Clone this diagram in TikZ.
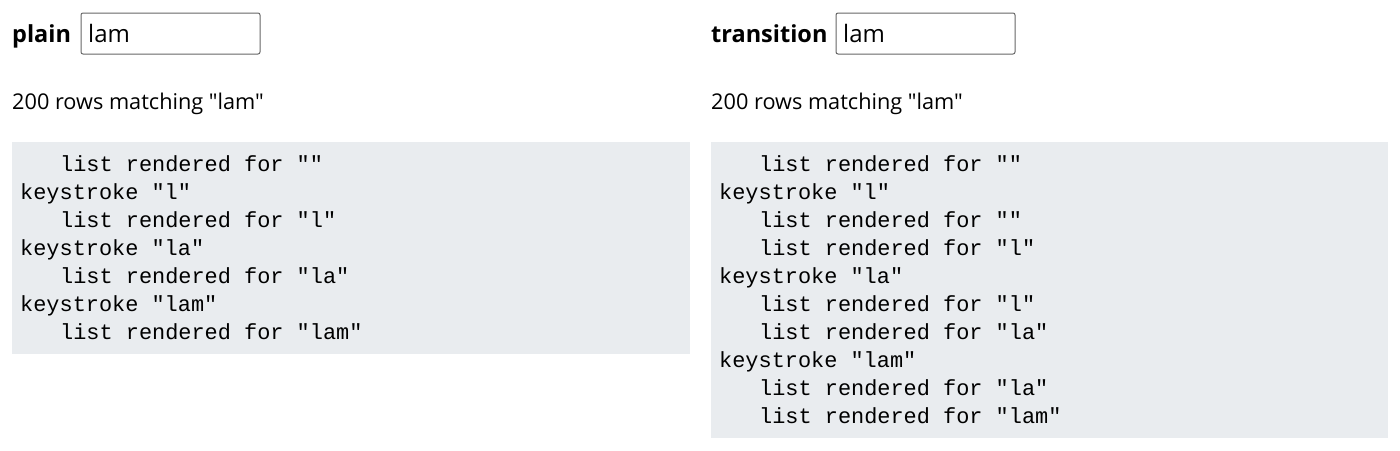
\documentclass[tikz,border=0pt]{standalone}
\usepackage{fontspec}
\setmainfont{Open Sans}[Ligatures=TeXOff]
\setmonofont{Liberation Mono}
\begin{document}
\begin{tikzpicture}[x=1pt,y=-1pt,
  lbl/.style={anchor=base west,inner sep=0pt,font=\fontsize{21.7}{26}\selectfont},
  hd/.style={lbl,font=\fontsize{23.5}{28}\selectfont\bfseries},
  inp/.style={draw=black!60,line width=1pt,rounded corners=2pt},
  pane/.style={fill={rgb,255:red,233;green,236;blue,239}},
  code/.style={anchor=base west,inner sep=0pt,font=\fontsize{21.9}{28}\selectfont\ttfamily}]
\useasboundingbox (0,0) rectangle (1400,450);
% left
\node[hd] (h1) at (12,42) {plain};
\draw[inp] (81,13) rectangle (260,54);
\node[lbl,font=\fontsize{24}{28}\selectfont] (v1) at (88,42) {lam};
\node[lbl] (c1) at (12,109) {200 rows matching "lam"};
\fill[pane] (12,142) rectangle (690,354);
\foreach \t/\x [count=\i] in {{list rendered for ""}/60,{keystroke "l"}/20,{list rendered for "l"}/60,{keystroke "la"}/20,{list rendered for "la"}/60,{keystroke "lam"}/20,{list rendered for "lam"}/60}
  \node[code] (l\i) at (\x,{171+28*(\i-1)}) {\t};
% right
\node[hd] (h2) at (711,42) {transition};
\draw[inp] (836,13) rectangle (1015,54);
\node[lbl,font=\fontsize{24}{28}\selectfont] (v2) at (843,42) {lam};
\node[lbl] (c2) at (711,109) {200 rows matching "lam"};
\fill[pane] (711,142) rectangle (1388,438);
\foreach \t/\x [count=\i] in {{list rendered for ""}/759,{keystroke "l"}/719,{list rendered for ""}/759,{list rendered for "l"}/759,{keystroke "la"}/719,{list rendered for "l"}/759,{list rendered for "la"}/759,{keystroke "lam"}/719,{list rendered for "la"}/759,{list rendered for "lam"}/759}
  \node[code] (r\i) at (\x,{171+28*(\i-1)}) {\t};
\end{tikzpicture}
\end{document}
